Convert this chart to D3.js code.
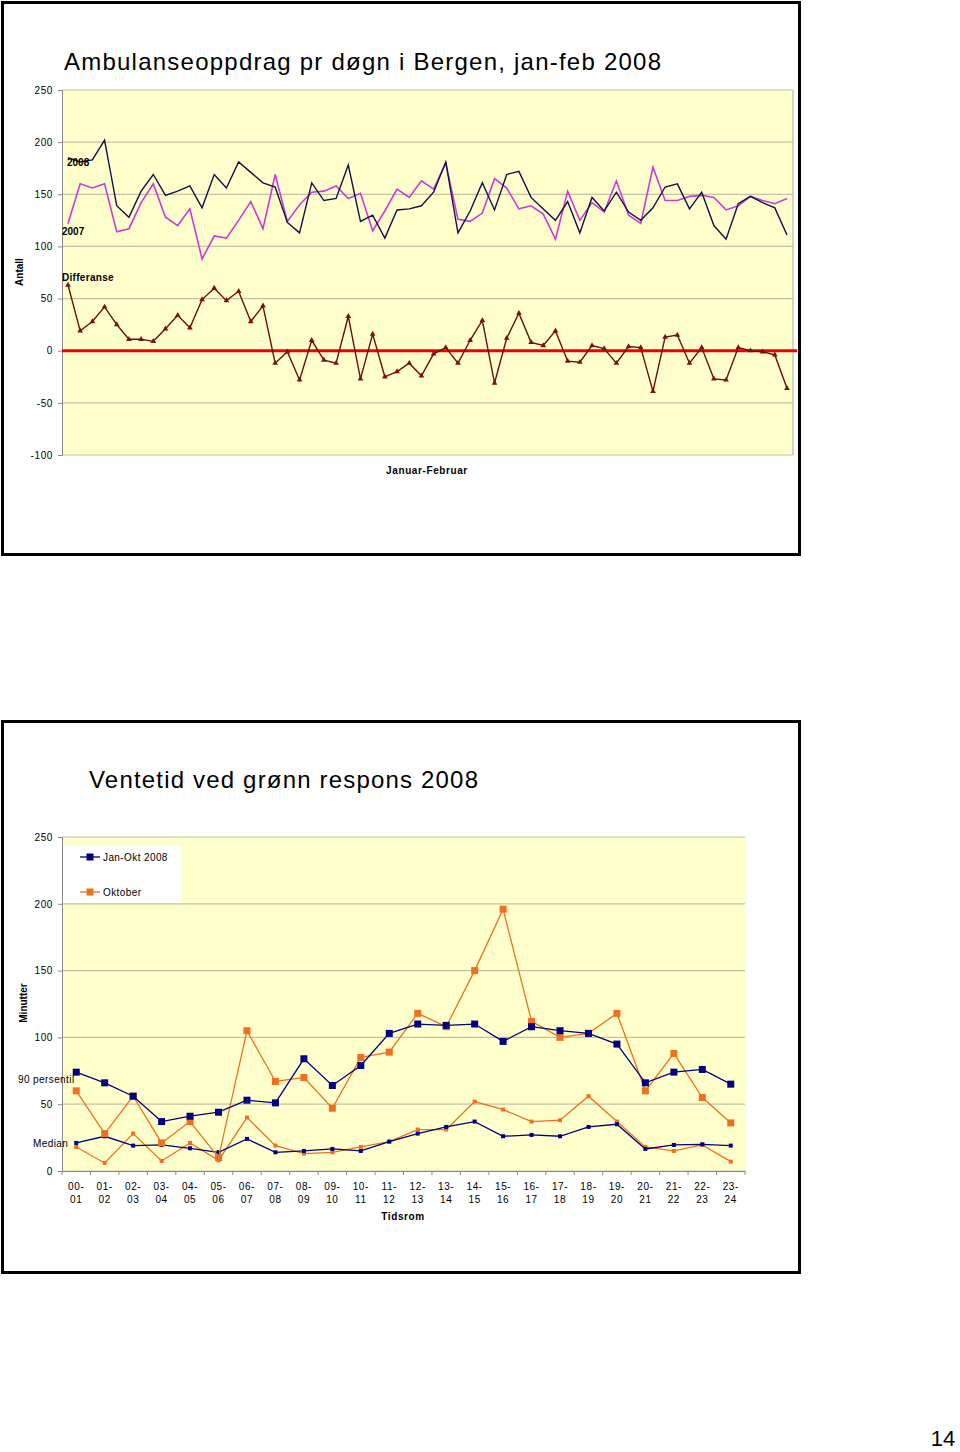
<!DOCTYPE html>
<html><head><meta charset="utf-8">
<script src="https://cdn.jsdelivr.net/npm/d3@7"></script>
<style>
html,body{margin:0;padding:0;background:#fff;}
svg{display:block;font-family:"Liberation Sans",Arial,sans-serif;}
</style></head>
<body>
<svg id="c" width="960" height="1452"></svg>
<script>
// ---------- Data: chart 1 (daily ambulance missions, Jan-Feb) ----------
const days = d3.range(1, 61); // 60 days (31 Jan + 29 Feb)
const series2008 = [185,181,183,202,139,128,153,169,149,153, 158,137,169,156,181,171,161,157,123,113,
  161,144,146,178,124,130,108,135,136,139, 152,181,113,134,161,135,169,172,147,136,
  125,143,113,147,134,152,133,125,137,157, 160,136,152,120,107,141,148,142,137,111];
const series2007 = [122,160,156,160,114,117,142,160,128,120, 136,88,110,108,125,143,117,169,124,140,
  152,153,158,146,151,115,134,155,147,163, 155,180,126,124,132,165,156,136,139,131,
  107,153,125,142,133,163,130,122,176,144, 144,148,149,147,135,139,148,144,141,146];
const differanse = [63,19,28,42,25,11,11,9,21,34, 22,49,60,48,57,28,43,-12,-1,-28,
  10,-9,-12,33,-27,16,-25,-20,-12,-24, -3,3,-12,10,29,-31,12,36,8,5,
  19,-10,-11,5,2,-12,4,3,-39,13, 15,-12,3,-27,-28,3,0,-1,-4,-36];
const yTicks1 = [-100,-50,0,50,100,150,200,250];

// ---------- Data: chart 2 (waiting time, green response) ----------
const tidsrom = ["00-01","01-02","02-03","03-04","04-05","05-06","06-07","07-08","08-09","09-10","10-11","11-12",
  "12-13","13-14","14-15","15-16","16-17","17-18","18-19","19-20","20-21","21-22","22-23","23-24"];
const p90JanOkt = [74,66,56,37,41,44,53,51,84,64,79,103,110,109,110,97,108,105,103,95,66,74,76,65];
const p90Okt    = [60,28,56,21,37,10,105,67,70,47,85,89,118,108,150,196,112,100,103,118,60,88,55,36];
const medJanOkt = [21,26,19,19.5,17,14,24,14,15,16.5,15,22,28,33,37,26,27,26,33,35,16.5,19.5,20,19];
const medOkt    = [18,6,28,7.5,21,8,40,19,13,14,18,22,31,31,52,46,37,38,56,37,18,15,19.5,7];
const yTicks2 = [0,50,100,150,200,250];

const svg = d3.select("#c");
const bg = "#FFFFCC", grid = "#C4C4A4";

// ================= Chart 1 =================
svg.append("rect").attr("x",2.5).attr("y",2.5).attr("width",797).attr("height",552)
  .attr("fill","#fff").attr("stroke","#000").attr("stroke-width",3);

svg.append("text").attr("x",64).attr("y",70).attr("font-size",24)
  .attr("textLength",597).attr("lengthAdjust","spacing")
  .text("Ambulanseoppdrag pr døgn i Bergen, jan-feb 2008");

const x1 = d3.scaleLinear().domain([1,60]).range([68,787]);
const y1 = d3.scaleLinear().domain([-100,250]).range([455,90]);
const L1 = 62, R1 = 793;

const g1 = svg.append("g");
g1.append("rect").attr("x",L1).attr("y",y1(250)).attr("width",R1-L1).attr("height",y1(-100)-y1(250)).attr("fill",bg);
g1.selectAll("line.grid").data(yTicks1).join("line")
  .attr("x1",L1).attr("x2",R1).attr("y1",d=>y1(d)).attr("y2",d=>y1(d))
  .attr("stroke",grid).attr("stroke-width",1.2);
g1.append("line").attr("x1",R1).attr("x2",R1).attr("y1",y1(250)).attr("y2",y1(-100)).attr("stroke","#aaa").attr("stroke-width",1);

const ax1 = d3.axisLeft(y1).tickValues(yTicks1).tickSize(4).tickPadding(5).tickFormat(d=>String(d));
const ga1 = svg.append("g").attr("transform",`translate(${L1},0)`).call(ax1);
ga1.select(".domain").attr("stroke","#888");
ga1.selectAll(".tick line").attr("stroke","#888");
ga1.selectAll("text").attr("font-size",10).attr("letter-spacing",0.6).attr("fill","#000")
  .attr("font-family","'Liberation Sans',Arial,sans-serif");

// zero line (red)
svg.append("line").attr("x1",L1).attr("x2",797).attr("y1",y1(0)).attr("y2",y1(0))
  .attr("stroke","#F00000").attr("stroke-width",3);

const line1 = d3.line().x((d,i)=>x1(days[i])).y(d=>y1(d));
svg.append("path").datum(series2007).attr("d",line1).attr("fill","none").attr("stroke","#D038D8").attr("stroke-width",1.6);
svg.append("path").datum(series2008).attr("d",line1).attr("fill","none").attr("stroke","#10104A").attr("stroke-width",1.4);
svg.append("path").datum(differanse).attr("d",line1).attr("fill","none").attr("stroke","#6A0E0E").attr("stroke-width",1.4);
svg.selectAll("path.tri").data(differanse).join("path")
  .attr("d",d3.symbol().type(d3.symbolTriangle).size(14))
  .attr("transform",(d,i)=>`translate(${x1(days[i])},${y1(d)})`)
  .attr("fill","#7A1010");

svg.append("text").attr("x",67).attr("y",166).attr("font-size",10).attr("font-weight","bold").text("2008");
svg.append("text").attr("x",62).attr("y",235).attr("font-size",10).attr("font-weight","bold").text("2007");
svg.append("text").attr("x",62).attr("y",281).attr("font-size",10).attr("font-weight","bold").attr("letter-spacing",0.3).text("Differanse");
svg.append("text").attr("x",427).attr("y",474).attr("font-size",10).attr("font-weight","bold").attr("text-anchor","middle").attr("letter-spacing",0.6).text("Januar-Februar");
svg.append("text").attr("transform","translate(23,272) rotate(-90)").attr("font-size",10).attr("font-weight","bold").attr("text-anchor","middle").text("Antall");

// ================= Chart 2 =================
svg.append("rect").attr("x",2.5).attr("y",721.5).attr("width",797).attr("height",551)
  .attr("fill","#fff").attr("stroke","#000").attr("stroke-width",3);

svg.append("text").attr("x",89).attr("y",788).attr("font-size",24)
  .attr("textLength",389).attr("lengthAdjust","spacing")
  .text("Ventetid ved grønn respons 2008");

const L2 = 62, R2 = 745;
const x2 = d3.scaleBand().domain(tidsrom).range([L2,R2]);
const y2 = d3.scaleLinear().domain([0,250]).range([1171,837]);
const cx = d => x2(d) + x2.bandwidth()/2;

svg.append("rect").attr("x",L2).attr("y",y2(250)).attr("width",R2-L2).attr("height",y2(0)-y2(250)).attr("fill",bg);
svg.selectAll("line.grid2").data(yTicks2).join("line")
  .attr("x1",L2).attr("x2",R2).attr("y1",d=>y2(d)).attr("y2",d=>y2(d))
  .attr("stroke",grid).attr("stroke-width",1.2);

const ax2 = d3.axisLeft(y2).tickValues(yTicks2).tickSize(4).tickPadding(5).tickFormat(d=>String(d));
const ga2 = svg.append("g").attr("transform",`translate(${L2},0)`).call(ax2);
ga2.select(".domain").attr("stroke","#888");
ga2.selectAll(".tick line").attr("stroke","#888");
ga2.selectAll("text").attr("font-size",10).attr("letter-spacing",0.6).attr("fill","#000")
  .attr("font-family","'Liberation Sans',Arial,sans-serif");

const bx2 = d3.axisBottom(x2).tickSize(0).tickFormat("");
const gb2 = svg.append("g").attr("transform",`translate(0,${y2(0)})`).call(bx2);
gb2.select(".domain").attr("stroke","#888");
// tick marks between categories
svg.selectAll("line.xt").data(tidsrom).join("line")
  .attr("x1",d=>x2(d)).attr("x2",d=>x2(d)).attr("y1",y2(0)).attr("y2",y2(0)+4).attr("stroke","#888");
svg.append("line").attr("x1",R2).attr("x2",R2).attr("y1",y2(0)).attr("y2",y2(0)+4).attr("stroke","#888");

// two-line category labels
const lab = svg.selectAll("text.cat").data(tidsrom).join("text")
  .attr("text-anchor","middle").attr("font-size",10).attr("letter-spacing",0.6);
lab.append("tspan").attr("x",cx).attr("y",1190).text(d=>d.split("-")[0]+"-");
lab.append("tspan").attr("x",cx).attr("y",1203).text(d=>d.split("-")[1]);

const line2 = d3.line().x((d,i)=>cx(tidsrom[i])).y(d=>y2(d));
const navy = "#000080", orange = "#F07020";
function drawSeries(data, color, size){
  svg.append("path").datum(data).attr("d",line2).attr("fill","none").attr("stroke",color).attr("stroke-width",1.3);
  svg.append("g").selectAll("rect").data(data).join("rect")
    .attr("x",(d,i)=>cx(tidsrom[i])-size/2).attr("y",d=>y2(d)-size/2)
    .attr("width",size).attr("height",size).attr("fill",color);
}
drawSeries(medOkt, orange, 4);
drawSeries(medJanOkt, navy, 4);
drawSeries(p90Okt, orange, 7);
drawSeries(p90JanOkt, navy, 7);

// legend
const legend = [{name:"Jan-Okt 2008", c:navy, y:857},{name:"Oktober", c:orange, y:892}];
svg.append("rect").attr("x",L2+1).attr("y",846).attr("width",118).attr("height",57).attr("fill","#fff");
legend.forEach(l=>{
  svg.append("line").attr("x1",80).attr("x2",100).attr("y1",l.y).attr("y2",l.y).attr("stroke",l.c).attr("stroke-width",1.3);
  svg.append("rect").attr("x",86.5).attr("y",l.y-3.5).attr("width",7).attr("height",7).attr("fill",l.c);
  svg.append("text").attr("x",103).attr("y",l.y+4).attr("font-size",10).attr("letter-spacing",0.4).text(l.name);
});

svg.append("text").attr("x",18).attr("y",1083).attr("font-size",10).attr("letter-spacing",0.4).text("90 persentil");
svg.append("text").attr("x",33).attr("y",1147).attr("font-size",10).attr("letter-spacing",0.4).text("Median");
svg.append("text").attr("x",403).attr("y",1220).attr("font-size",10).attr("font-weight","bold").attr("text-anchor","middle").attr("letter-spacing",0.6).text("Tidsrom");
svg.append("text").attr("transform","translate(27,1003) rotate(-90)").attr("font-size",10).attr("font-weight","bold").attr("text-anchor","middle").text("Minutter");

// page number
svg.append("text").attr("x",943).attr("y",1446).attr("font-size",22).attr("text-anchor","middle").text("14");
</script>
</body></html>
